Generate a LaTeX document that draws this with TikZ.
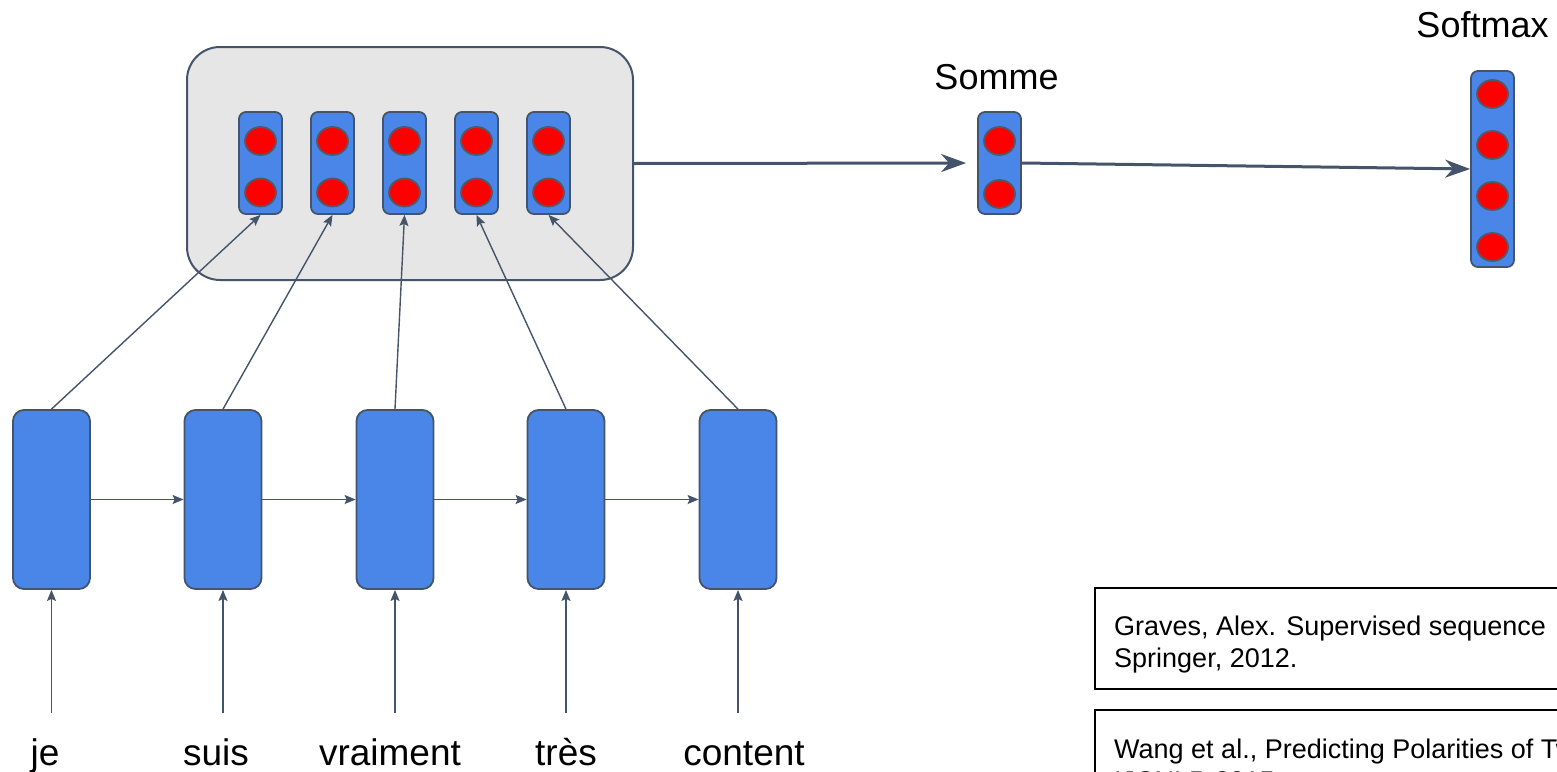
\documentclass[tikz,border=0pt]{standalone}
\usepackage{fontspec}
\setmainfont{Liberation Sans}
\usetikzlibrary{arrows.meta,shapes.geometric}
\definecolor{slate}{HTML}{44546A}
\definecolor{cellblue}{HTML}{4A86E8}
\definecolor{panelgray}{HTML}{E6E6E6}
\definecolor{dotstroke}{HTML}{4F5B6B}

\begin{document}
\begin{tikzpicture}[x=1pt,y=-1pt,
  panel/.style={draw=slate, line width=2pt, fill=panelgray, rounded corners=33pt,
    minimum width=446pt, minimum height=233pt, inner sep=0pt},
  vecbox/.style={draw=slate, line width=1.8pt, fill=cellblue, rounded corners=7pt,
    minimum width=43pt, inner sep=0pt},
  dot/.style={ellipse, draw=dotstroke, line width=1.8pt, fill=red,
    minimum width=31pt, minimum height=28pt, inner sep=0pt},
  cell/.style={draw=slate, line width=1.8pt, fill=cellblue, rounded corners=11pt,
    minimum width=77pt, minimum height=179pt, inner sep=0pt},
  thin/.style={draw=slate, line width=1.4pt, -{Stealth[length=11pt,width=9pt,inset=2pt]}},
  bold/.style={draw=slate, line width=3pt, -{Stealth[length=25pt,width=18pt,inset=8pt]}},
  word/.style={font=\fontsize{37}{44}\selectfont, anchor=base, inner sep=0pt},
  heading/.style={font=\fontsize{36}{43}\selectfont, anchor=base, inner sep=0pt},
  cite/.style={font=\fontsize{27}{32}\selectfont, anchor=base west, inner sep=0pt},
  citebox/.style={draw=black, line width=1.5pt, minimum width=505pt, inner sep=0pt}
]
\useasboundingbox (0,0) rectangle (1557,771);
\clip (0,0) rectangle (1557,771);

% attention panel with the five annotation vectors
\node[panel] (p) at (410,163.5) {};
\foreach \i/\x in {1/260.5,2/332.5,3/404.5,4/476.5,5/548.5}{
  \node[vecbox, minimum height=102pt] (v\i) at (\x,163) {};
  \node[dot] (v\i a) at (\x,141) {};
  \node[dot] (v\i b) at (\x,192.5) {};
}

% sum vector
\node[heading] (lsomme) at (996.5,89) {Somme};
\node[vecbox, minimum height=102pt] (s) at (999.5,163) {};
\node[dot] (sa) at (999.5,141) {};
\node[dot] (sb) at (999.5,194) {};

% softmax output vector
\node[heading] (lsoft) at (1482.5,37) {Softmax};
\node[vecbox, minimum height=196pt] (m) at (1492.5,169) {};
\foreach \j/\y in {1/94,2/145,3/196,4/247}{
  \node[dot] (m\j) at (1492.5,\y) {};
}

\draw[bold, shorten >=11pt] (p.east) -- (s.west);
\draw[bold] (s.east) -- (m.west);

% recurrent cells, inputs and words
\foreach \i/\x/\wx/\w in {1/51.5/45/je,2/223/216/suis,3/395/390/vraiment,4/566/566/très,5/738/744/content}{
  \node[cell] (h\i) at (\x,499.5) {};
  \coordinate (in\i) at (\x,713);
  \node[word] (w\i) at (\wx,765) {\w};
  \draw[thin] (in\i) -- (h\i.south);
  \draw[thin] (h\i.north) -- (v\i.south);
}
\foreach \i/\k in {1/2,2/3,3/4,4/5}{
  \draw[thin] (h\i.east) -- (h\k.west);
}

% references
\node[citebox, minimum height=101pt] (ca) at (1347.5,638.5) {};
\node[cite] (ca1) at (1114,635) {Graves, Alex. Supervised sequence};
\node[cite] (ca2) at (1114,667) {Springer, 2012.};
\node[citebox, minimum height=101pt] (cb) at (1347.5,760.5) {};
\node[cite] (cb1) at (1114,758) {Wang et al., Predicting Polarities of Tw};
\node[cite] (cb2) at (1114,790) {IJCNLP 2015};
\end{tikzpicture}
\end{document}
